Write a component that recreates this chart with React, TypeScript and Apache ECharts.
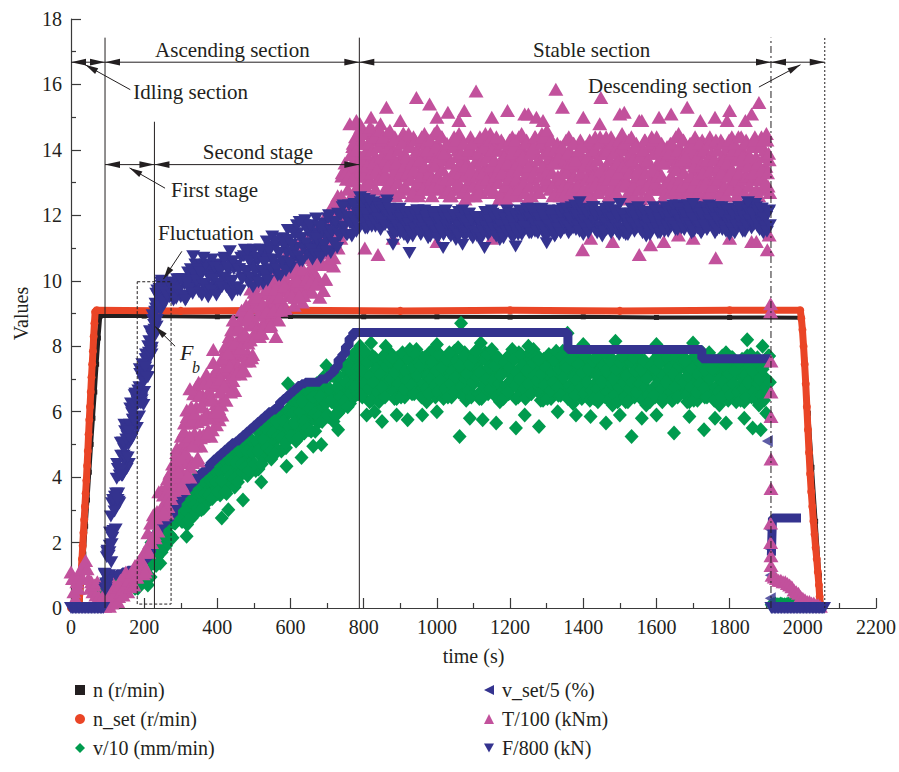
import React, { useEffect, useRef } from "react";
import * as echarts from "echarts";

const FONT = '"Liberation Serif", "Times New Roman", serif';
const INK = "#231f20";
const AXIS_COL = "#3a3a3a";
const COL_N = "#231f20";
const COL_NSET = "#ea4526";
const COL_V = "#009b4e";
const COL_VSET = "#34338f";
const COL_T = "#c2519c";
const COL_F = "#34338f";
const LEFT_TRI = "path://M0,5L10,0L10,10Z";
const DOWN_TRI = "path://M0,0L10,0L5,9Z";

const X_MIN = 0, X_MAX = 2200, X_STEP = 200;
const Y_MIN = 0, Y_MAX = 18, Y_STEP = 2;

const NAME_N = "n (r/min)";
const NAME_NSET = "n_set (r/min)";
const NAME_V = "v/10 (mm/min)";
const NAME_VSET = "v_set/5 (%)";
const NAME_T = "T/100 (kNm)";
const NAME_F = "F/800 (kN)";

// ---------- n (r/min) ----------
const N_DATA = [[0,0],[25,0],[30,0.8],[35,1.65],[40,2.5],[45,3.3],[50,4.15],[55,5.0],[60,5.8],[65,6.6],[70,7.45],[75,8.25],[80,8.92],[200,8.92],[400,8.9],[600,8.91],[800,8.9],[1000,8.9],[1200,8.89],[1400,8.9],[1600,8.88],[1800,8.88],[1997,8.87],[2005,7.6],[2015,5.95],[2025,4.3],[2035,2.65],[2045,1.0],[2052,0]];

// ---------- n_set (r/min) ----------
const NSET_DATA = [[0,0],[20,0],[22,0.15],[24,0.45],[26,0.8],[28,1.15],[30,1.5],[32,1.9],[34,2.3],[36,2.7],[38,3.1],[40,3.5],[42,3.9],[44,4.35],[46,4.8],[48,5.3],[50,5.75],[52,6.15],[54,6.6],[56,7.05],[58,7.45],[60,7.85],[62,8.3],[64,8.7],[66,9.05],[70,9.1],[300,9.08],[600,9.1],[900,9.08],[1200,9.1],[1500,9.08],[1800,9.1],[1993,9.1],[1996,8.85],[1999,8.5],[2002,8.0],[2005,7.45],[2008,6.85],[2011,6.15],[2014,5.45],[2017,4.75],[2020,4.1],[2023,3.55],[2026,3.1],[2029,2.65],[2032,2.25],[2035,1.85],[2038,1.5],[2041,1.1],[2044,0.7],[2046,0.35],[2048,0]];

// ---------- v/10 (mm/min) ----------
const V_ASC_T0 = 80, V_ASC_DT = 5;
const V_ASC = [0.3,0.5,0.4,0.6,
0.85,0.5,0.75,0.4,0.7,0.85,0.5,0.75,0.65,0.85,0.5,0.95,0.6,0.75,0.95,0.6,0.9,0.8,1.15,0.8,
0.85,1.4,0.7,1.5,2.0,1.4,1.85,1.55,2.35,2.25,2.1,2.8,1.9,2.7,2.25,2.7,3.15,2.6,2.85,3.45,
3.25,2.65,3.6,3.15,2.95,3.6,2.75,3.45,3.95,3.35,3.15,3.85,3.65,3.15,4.1,3.65,3.95,3.5,4.45,3.65,
3.5,4.1,4.45,3.85,4.45,3.5,4.4,4.85,3.95,4.35,4.8,3.95,4.75,4.4,5.1,4.15,4.7,5.05,4.5,4.9,
5.0,4.2,4.95,5.35,4.7,5.7,4.95,4.65,5.55,5.25,5.85,4.95,5.55,5.2,5.95,4.8,5.8,5.6,5.25,6.0,
6.35,5.45,6.05,5.1,5.95,6.45,5.45,6.1,5.9,6.4,5.45,6.7,5.8,6.15,6.65,5.65,6.5,6.1,7.05,5.9,
6.65,5.85,7.1,6.5,6.25,7.1,5.95,6.85,7.45,6.65,6.35,7.3,7.05,6.35,7.6,7.0,7.35,6.75,8.0];
const V_ASC2_T0 = 82.5, V_ASC2_DT = 5;
const V_ASC2 = [0.55,0.3,0.6,0.4,
0.55,0.8,0.45,0.7,0.4,0.55,0.8,0.45,0.95,0.55,0.8,0.65,0.9,1.05,0.65,0.9,0.6,1.1,0.85,1.1,
1.4,0.85,1.25,0.95,1.45,1.95,1.3,2.1,1.8,1.7,2.65,2.25,2.45,2.15,2.8,2.15,2.6,3.15,3.4,2.9,
2.65,3.25,3.0,2.55,3.55,3.0,3.35,2.85,3.35,3.95,3.75,3.25,3.05,3.75,3.5,4.25,3.35,4.1,3.85,4.25,
4.15,3.45,3.8,4.5,3.8,4.15,3.75,4.2,4.6,3.7,4.15,4.6,4.1,5.05,4.45,4.8,4.05,4.4,5.15,4.25,
4.3,4.9,4.25,4.65,5.4,5.0,5.65,5.35,4.85,4.55,5.15,5.65,4.85,5.9,5.25,5.5,5.1,4.9,5.95,5.3,
5.6,6.2,5.3,5.85,5.2,5.7,6.2,5.35,6.65,5.65,6.2,5.95,6.55,5.4,5.9,6.4,5.75,6.85,6.3,6.65,
5.85,6.65,6.3,5.7,7.05,6.3,6.75,6.05,6.65,7.45,7.15,6.5,6.25,7.15,6.8,7.8,6.55,7.55,7.2];
const V_ASC3_T0 = 301.25, V_ASC3_DT = 5;
const V_ASC3 = [2.7,3.25,3.0,3.6,2.7,3.35,3.65,3.15,4.0,3.05,3.55,3.0,3.9,3.5,4.2,3.45,3.9,3.35,4.25,3.85,
3.55,4.2,3.9,4.55,3.55,4.25,4.55,4.05,4.95,3.95,4.45,3.85,4.8,4.4,5.15,4.3,4.8,4.2,5.15,4.75,
4.4,5.1,4.8,5.5,4.4,5.15,5.5,4.9,5.9,4.8,5.35,4.7,5.7,5.25,6.05,5.2,5.7,5.05,6.05,5.55,
5.25,5.95,5.65,6.35,5.2,6.0,6.3,5.7,6.7,5.5,6.1,5.4,6.45,5.95,6.85,5.85,6.45,5.7,6.8,6.25,
5.9,6.7,6.35,7.1,5.9,6.75,7.1,6.45,7.5,6.3,6.9,6.15,7.3,6.8,7.75,6.75,7.3,6.55,7.7];
const V_STB_T0 = 792, V_STB_DT = 4;
const V_STB = [7.3,6.45,7.65,7.0,6.7,7.5,6.3,7.15,7.7,6.85,6.5,7.4,7.1,6.35,7.55,6.9,7.25,6.6,7.8,6.75,
7.8,6.85,7.4,6.4,7.2,7.65,6.6,7.25,7.0,7.5,6.45,7.75,6.8,7.1,7.6,6.55,7.35,6.95,7.9,6.7,
6.6,7.25,7.65,6.85,7.5,6.3,7.35,7.8,6.7,7.1,7.6,6.45,7.4,6.95,7.75,6.55,7.2,7.5,6.8,7.25,
7.0,7.65,6.45,7.4,7.85,6.75,7.15,6.6,7.55,7.3,6.9,7.8,6.35,7.45,6.65,7.25,7.7,6.85,7.05,7.85,
7.35,6.4,7.2,7.6,6.8,7.8,6.95,6.55,7.5,7.1,7.75,6.6,7.25,6.85,7.65,6.3,7.4,7.2,6.7,7.6,
7.4,6.55,7.75,7.1,6.8,7.6,6.4,7.25,7.8,6.95,6.6,7.5,7.2,6.45,7.65,7.0,7.35,6.7,7.9,6.85,
7.75,6.8,7.35,6.35,7.15,7.6,6.55,7.2,6.95,7.45,6.4,7.7,6.75,7.05,7.55,6.5,7.3,6.9,7.85,6.65,
6.55,7.2,7.6,6.8,7.45,6.25,7.3,7.75,6.65,7.05,7.55,6.4,7.35,6.9,7.7,6.5,7.15,7.45,6.75,7.2,
6.85,7.5,6.3,7.25,7.7,6.6,7.0,6.45,7.4,7.15,6.75,7.65,6.2,7.3,6.5,7.1,7.55,6.7,6.9,7.7,
7.25,6.3,7.1,7.5,6.7,7.7,6.85,6.45,7.4,7.0,7.65,6.5,7.15,6.75,7.55,6.2,7.3,7.1,6.6,7.5,
7.3,6.45,7.65,7.0,6.7,7.5,6.3,7.15,7.7,6.85,6.5,7.4,7.1,6.35,7.55,6.9,7.25,6.6,7.8,6.75,
7.7,6.75,7.3,6.3,7.1,7.55,6.5,7.15,6.9,7.4,6.35,7.65,6.7,7.0,7.5,6.45,7.25,6.85,7.8,6.6,
6.5,7.15,7.55,6.75,7.4,6.2,7.25,7.7,6.6,7.0,7.5,6.35,7.3,6.85,7.65,6.45,7.1,7.4,6.7,7.15,
6.85,7.5,6.3,7.25,7.7,6.6,7.0,6.45,7.4,7.15,6.75,7.65,6.2,7.3,6.5,7.1,7.55,6.7,6.9,7.7];
const V_STB2_T0 = 794, V_STB2_DT = 4;
const V_STB2 = [6.5,7.25,6.85,7.8,7.5,6.7,7.1,6.35,6.9,7.65,7.3,6.6,6.3,7.15,6.75,7.7,6.45,7.4,7.0,7.55,
7.0,7.65,6.6,7.2,6.4,6.85,7.4,6.45,7.8,6.7,7.25,6.95,7.6,7.9,6.8,7.35,6.55,7.75,7.1,7.5,
7.4,6.45,6.85,7.65,6.7,7.1,6.55,7.0,7.5,7.9,6.8,7.25,6.6,7.75,6.95,7.35,6.4,6.7,7.6,6.45,
7.8,6.85,7.25,6.6,7.05,7.55,7.95,7.4,6.75,6.5,7.7,7.0,7.15,6.65,7.45,6.45,6.9,7.65,7.85,7.05,
6.55,7.2,6.4,6.8,7.6,7.0,7.75,7.35,6.7,7.9,6.95,7.4,6.45,7.65,6.85,7.1,6.6,6.4,7.5,6.8,
6.6,7.35,6.95,7.9,7.6,6.8,7.2,6.45,7.0,7.75,7.4,6.7,6.4,7.25,6.85,7.8,6.55,7.5,7.1,7.65,
6.95,7.6,6.55,7.15,6.35,6.8,7.35,6.4,7.75,6.65,7.2,6.9,7.55,7.85,6.75,7.3,6.5,7.7,7.05,7.45,
7.35,6.4,6.8,7.6,6.65,7.05,6.5,6.95,7.45,7.85,6.75,7.2,6.55,7.7,6.9,7.3,6.35,6.65,7.55,6.4,
7.65,6.7,7.1,6.45,6.9,7.4,7.8,7.25,6.6,6.35,7.55,6.85,7.0,6.5,7.3,6.3,6.75,7.5,7.7,6.9,
6.45,7.1,6.3,6.7,7.5,6.9,7.65,7.25,6.6,7.8,6.85,7.3,6.35,7.55,6.75,7.0,6.5,6.3,7.4,6.7,
6.5,7.3,6.85,7.75,7.5,6.7,7.1,6.4,6.9,7.65,7.3,6.6,6.35,7.15,6.75,7.7,6.45,7.4,7.0,7.55,
6.9,7.55,6.5,7.1,6.3,6.75,7.3,6.35,7.7,6.6,7.15,6.85,7.5,7.8,6.7,7.25,6.45,7.65,7.0,7.4,
7.3,6.35,6.75,7.55,6.6,7.0,6.45,6.9,7.4,7.8,6.7,7.15,6.5,7.65,6.85,7.25,6.3,6.6,7.5,6.35,
7.6,6.7,7.1,6.45,6.9,7.4,7.75,7.25,6.6,6.4,7.55,6.85,7.0,6.5,7.3,6.35,6.75,7.5,7.7,6.9];
const V_OUT = [[244,1.37],[316,2.19],[412,2.75],[430,3.0],[470,3.3],[520,3.85],[589,4.33],[630,4.6],[662,4.94],[684,5.0],[730,5.45],[593,6.85],[698,7.4],
[808,5.9],[830,6.0],[850,5.7],[890,5.9],[920,5.75],[960,5.9],[1000,6.0],[1062,5.24],[1090,5.8],[1125,5.75],[1162,5.65],[1216,5.5],[1240,5.9],[1279,5.55],[1330,6.0],[1380,5.9],[1420,5.85],[1462,5.65],[1500,5.9],[1532,5.24],[1560,5.8],[1600,5.9],[1648,5.35],[1690,5.85],[1730,5.45],[1760,5.8],[1790,5.65],[1840,5.8],[1863,5.5],[1885,5.45],[1900,5.95],
[820,8.1],[860,8.0],[1000,8.05],[1066,8.7],[1120,8.1],[1250,8.0],[1357,8.4],[1400,8.05],[1488,8.15],[1600,8.05],[1700,8.1],[1848,8.2],[1890,8.0]];
const V_END = [[1915,0.1],[1920,0.1],[1925,0.12],[1930,0.1],[1935,0.1],[1940,0.12],[1945,0.1],[1950,0.1],[1955,0.1],[1960,0.12],[1965,0.1],[1970,0.1],[1975,0.1],[1980,0.12],[1985,0.1],[1990,0.1]];

// ---------- v_set/5 (%) ----------
const VSET_MAIN = [[0,0],[93,0],[96,0.95],[110,1.0],[125,1.05],[140,1.1],[155,1.15],[170,1.2],[180,1.3],[190,1.4],[200,1.5],[210,1.7],[220,2.0],[230,2.3],[240,2.5],[250,2.6],[260,2.7],[270,2.85],[280,3.1],[290,3.3],[300,3.45],[310,3.6],[320,3.75],[330,3.85],[340,4.0],[350,4.1],[360,4.2],[370,4.3],[380,4.45],[390,4.55],[400,4.65],[410,4.75],[420,4.85],[430,4.95],[440,5.05],[450,5.1],[460,5.2],[470,5.3],[480,5.4],[490,5.5],[500,5.6],[510,5.7],[520,5.8],[530,5.9],[540,6.0],[550,6.05],[560,6.15],[570,6.3],[580,6.4],[590,6.5],[600,6.6],[610,6.7],[620,6.8],[630,6.85],[640,6.9],[660,6.9],[680,7.0],[700,7.1],[710,7.2],[720,7.35],[730,7.6],[740,7.75],[750,8.0],[760,8.25],[770,8.42],[1352,8.42],[1358,7.9],[1718,7.9],[1724,7.62],[1913,7.62]];
const VSET_TAIL = [[1914,1.6],[1917,2.75],[1995,2.75]];
const VSET_PTS = [[1903,5.1],[1911,2.4],[1911,1.8],[1911,1.0],[1911,0.3]];

// ---------- T/100 (kNm) ----------
const T_EARLY = [[0,1.1],[4,0.9],[8,0.5],[12,0.3],[16,0.8],[20,0.6],[24,1.0],[28,1.2],[32,0.9],[36,1.3],[40,1.45],[44,1.2],[48,0.9],[52,0.6],[56,0.8],[60,0.5],[64,0.7],[68,0.4],[72,0.8],[76,0.35],[80,0.2],[84,0.3],[88,0.1],[92,0.05]];
const T_ASC_T0 = 95, T_ASC_DT = 5;
const T_ASC = [0.2,0.5,0.05,0.5,0.75,0.3,0.55,0.35,0.85,0.75,0.65,1.1,0.5,1.0,0.75,1.05,1.3,0.95,1.1,1.5,1.4,
1.7,1.2,2.3,2.0,2.0,2.85,2.15,2.95,3.55,3.0,2.85,3.6,3.5,3.1,4.1,3.8,4.2,3.85,4.9,4.25,
3.75,4.85,5.65,4.65,5.7,4.0,5.65,6.55,4.95,5.7,6.5,4.95,6.5,5.85,7.15,5.45,6.45,7.05,6.0,6.8,
7.0,5.75,7.0,7.55,6.8,8.0,7.2,6.75,8.05,7.75,8.5,7.4,8.25,7.8,8.8,7.25,8.9,8.65,8.2,9.4,
9.65,8.7,9.4,8.3,9.3,9.9,8.8,9.6,9.35,9.95,8.85,10.3,9.3,9.7,10.3,9.15,10.1,9.7,10.85,9.55,
9.85,10.7,9.25,10.5,11.15,9.8,10.35,9.7,10.95,10.7,10.25,11.4,9.65,11.1,10.15,10.9,11.55,10.5,10.85,11.9,
11.5,10.5,12.1,11.45,11.2,12.35,11.0,12.3,13.2,12.3,12.1,13.4,13.2,12.45,14.1,13.4,13.9,13.2,14.8];
const T_ASC2_T0 = 97.5, T_ASC2_DT = 5;
const T_ASC2 = [0.55,0.15,0.4,0.15,0.4,0.65,0.2,0.7,0.5,0.4,1.0,0.75,0.85,0.65,1.1,0.7,0.95,1.3,1.45,1.15,1.05,
1.1,1.8,1.7,2.6,2.6,2.25,2.75,2.35,2.95,3.6,3.45,3.0,2.9,3.7,3.5,4.4,3.6,4.45,4.3,4.85,
4.95,3.65,4.45,5.85,4.5,5.2,4.45,5.35,6.15,4.5,5.3,6.15,5.3,7.05,5.95,6.65,5.25,5.85,7.2,5.6,
5.9,6.85,5.9,6.45,7.9,6.9,8.3,7.85,6.95,6.65,7.4,8.5,7.15,8.9,7.7,8.35,7.8,7.55,9.3,8.3,
8.75,9.6,8.5,9.2,8.4,9.0,9.7,8.7,10.25,9.05,9.75,9.4,10.2,8.8,9.4,10.05,9.2,10.6,9.95,10.45,
10.85,9.7,10.25,9.5,10.15,10.8,9.35,10.7,9.95,9.7,11.25,10.4,10.65,10.1,11.15,9.9,10.55,11.5,11.85,10.9,
10.5,11.5,11.1,10.45,12.2,11.35,12.0,11.3,12.2,13.3,13.1,12.4,12.2,13.45,13.1,14.4,12.9,14.2,13.8];
const T_ASC3_T0 = 251.25, T_ASC3_DT = 5;
const T_ASC3 = [3.55,3.25,3.1,3.75,4.15,3.6,4.05,3.65,4.6,4.3,
5.25,4.0,5.05,6.05,5.05,4.3,5.75,5.05,6.75,4.6,6.5,5.75,5.25,6.4,7.1,5.8,6.45,5.45,7.05,6.25,
7.25,6.6,6.2,7.3,8.0,6.8,7.5,6.6,8.15,7.5,8.6,7.4,8.25,9.1,8.2,7.55,8.85,8.2,9.75,7.75,
9.45,8.5,9.2,9.9,9.15,8.6,9.7,9.1,10.35,8.65,10.05,9.5,9.1,9.95,10.45,9.4,9.9,9.15,10.4,9.8,
10.6,9.95,9.5,10.45,11.0,9.85,10.4,9.55,10.9,10.25,11.2,10.05,10.8,11.55,10.7,10.05,11.2,10.55,11.9,10.05,
11.75,10.65,11.5,12.35,11.6,11.05,12.3,11.8,13.3,11.6,13.3,12.8,12.5,13.55,14.2,13.05,13.65,12.85,14.25];
const T_ASC4_T0 = 253.75, T_ASC4_DT = 5;
const T_ASC4 = [2.95,3.5,3.95,3.5,3.35,4.2,4.05,4.75,4.15,4.6,
3.75,5.4,4.75,4.05,5.25,6.15,5.0,5.95,4.5,6.9,5.2,6.15,6.85,5.85,5.35,6.85,6.35,7.5,6.0,6.9,
6.1,7.0,7.65,6.8,6.35,7.8,7.4,8.5,7.15,8.1,7.2,8.6,7.95,7.25,8.35,9.25,8.1,9.0,7.65,9.85,
8.3,9.5,8.95,8.4,9.3,10.0,9.05,9.75,8.6,10.4,9.1,9.75,10.25,9.5,9.1,10.25,9.85,10.7,9.55,10.25,
9.55,10.3,10.85,10.0,9.55,10.8,10.35,11.3,10.05,10.8,9.95,11.2,10.55,9.9,10.85,11.6,10.55,11.3,10.05,12.0,
10.5,11.8,11.25,10.7,11.75,12.6,11.7,12.6,11.5,13.6,12.3,13.2,13.85,13.1,12.7,14.0,13.6,14.6,13.4];
const T_STB_T0 = 792, T_STB_DT = 3;
const T_STB = [14.7,13.5,14.2,12.9,13.9,14.5,13.2,14.0,13.7,14.3,13.0,14.6,13.4,13.8,14.4,13.1,14.1,13.6,14.8,13.3,
13.4,14.2,12.7,13.9,14.5,13.1,13.6,12.9,14.1,13.8,13.3,14.4,12.6,14.0,13.0,13.7,14.3,13.2,13.5,14.5,
13.9,12.8,14.3,13.5,13.1,14.1,12.6,13.7,14.4,13.3,12.9,14.0,13.6,12.7,14.2,13.4,13.8,13.0,14.5,13.2,
13.0,13.8,14.3,13.3,14.1,12.6,13.9,14.5,13.1,13.6,14.2,12.8,14.0,13.4,14.4,12.9,13.7,14.1,13.2,13.8,
13.8,12.6,13.6,14.1,13.1,14.4,13.3,12.8,14.0,13.5,14.3,12.9,13.7,13.2,14.2,12.5,13.9,13.6,13.0,14.1,
14.4,13.2,13.9,12.6,13.6,14.2,12.9,13.7,13.4,14.0,12.7,14.3,13.1,13.5,14.1,12.8,13.8,13.3,14.5,13.0,
13.8,12.7,14.2,13.4,13.0,14.0,12.5,13.6,14.3,13.2,12.8,13.9,13.5,12.6,14.1,13.3,13.7,12.9,14.4,13.1,
13.3,14.1,12.6,13.8,14.4,13.0,13.5,12.8,14.0,13.7,13.2,14.3,12.5,13.9,12.9,13.6,14.2,13.1,13.4,14.4,
13.9,12.7,13.7,14.2,13.2,14.5,13.4,12.9,14.1,13.6,14.4,13.0,13.8,13.3,14.3,12.6,14.0,13.7,13.1,14.2,
12.8,13.6,14.1,13.1,13.9,12.4,13.7,14.3,12.9,13.4,14.0,12.6,13.8,13.2,14.2,12.7,13.5,13.9,13.0,13.6,
14.3,13.1,13.8,12.5,13.5,14.1,12.8,13.6,13.3,13.9,12.6,14.2,13.0,13.4,14.0,12.7,13.7,13.2,14.4,12.9,
13.9,12.8,14.3,13.5,13.1,14.1,12.6,13.7,14.4,13.3,12.9,14.0,13.6,12.7,14.2,13.4,13.8,13.0,14.5,13.2,
13.2,14.0,12.5,13.7,14.3,12.9,13.4,12.7,13.9,13.6,13.1,14.2,12.4,13.8,12.8,13.5,14.1,13.0,13.3,14.3,
13.8,12.6,13.6,14.1,13.1,14.4,13.3,12.8,14.0,13.5,14.3,12.9,13.7,13.2,14.2,12.5,13.9,13.6,13.0,14.1,
12.9,13.7,14.2,13.2,14.0,12.5,13.8,14.4,13.0,13.5,14.1,12.7,13.9,13.3,14.3,12.8,13.6,14.0,13.1,13.7,
14.2,13.1,13.9,12.5,13.4,14.1,12.8,13.7,13.2,13.9,12.6,14.3,13.0,13.5,14.0,12.7,13.6,13.2,14.4,12.9,
13.8,12.7,14.2,13.4,13.0,14.0,12.5,13.6,14.3,13.2,12.8,13.9,13.5,12.6,14.1,13.3,13.7,12.9,14.4,13.1,
13.3,14.1,12.6,13.8,14.4,13.0,13.5,12.8,14.0,13.7,13.2,14.3,12.5,13.9,12.9,13.6,14.2,13.1,13.4,14.4,
13.8,12.6,13.6,14.1,13.1,14.4,13.3,12.8,14.0,13.5,14.3,12.9,13.7];
const T_STB2_T0 = 793.5, T_STB2_DT = 3;
const T_STB2 = [13.7,14.5,13.2,13.9,12.9,13.5,14.2,13.0,14.7,13.3,14.0,13.6,14.4,12.8,13.4,14.1,13.1,14.6,13.8,14.3,
14.4,13.2,13.7,12.9,13.5,14.1,14.6,13.9,13.1,12.8,14.3,13.4,13.6,13.0,14.0,12.7,13.3,14.2,14.5,13.5,
12.9,13.8,13.3,14.5,14.1,13.1,13.6,12.7,13.4,14.3,13.9,13.0,12.6,13.7,13.2,14.4,12.8,14.0,13.5,14.2,
14.0,12.8,13.3,14.3,13.1,13.6,12.9,13.5,14.1,14.6,13.2,13.8,13.0,14.4,13.4,13.9,12.7,13.1,14.2,12.8,
12.8,13.6,12.6,13.1,14.1,13.4,14.3,13.8,13.0,14.5,13.3,13.9,12.7,14.2,13.2,13.5,12.9,12.6,14.0,13.1,
13.4,14.2,12.9,13.6,12.6,13.2,13.9,12.7,14.4,13.0,13.7,13.3,14.1,14.5,13.1,13.8,12.8,14.3,13.5,14.0,
12.8,13.7,13.2,14.4,14.0,13.0,13.5,12.6,13.3,14.2,13.8,12.9,12.5,13.6,13.1,14.3,12.7,13.9,13.4,14.1,
14.3,13.1,13.6,12.8,13.4,14.0,14.5,13.8,13.0,12.7,14.2,13.3,13.5,12.9,13.9,12.6,13.2,14.1,14.4,13.4,
12.9,13.7,12.7,13.2,14.2,13.5,14.4,13.9,13.1,14.6,13.4,14.0,12.8,14.3,13.3,13.6,13.0,12.7,14.1,13.2,
13.8,12.6,13.1,14.1,12.9,13.4,12.7,13.3,13.9,14.4,13.0,13.6,12.8,14.2,13.2,13.7,12.5,12.9,14.0,12.6,
13.3,14.1,12.8,13.5,12.5,13.1,13.8,12.6,14.3,12.9,13.6,13.2,14.0,14.4,13.0,13.7,12.7,14.2,13.4,13.9,
13.0,13.9,13.2,14.4,14.0,13.1,13.7,12.8,13.4,14.2,13.9,13.1,12.7,13.6,13.3,14.3,12.9,14.1,13.5,14.2,
14.2,13.0,13.5,12.7,13.3,13.9,14.4,13.7,12.9,12.6,14.1,13.2,13.4,12.8,13.8,12.5,13.1,14.0,14.3,13.3,
12.9,13.7,12.6,13.0,14.2,13.4,14.3,13.9,13.0,14.4,13.2,13.9,12.8,14.1,13.2,13.6,12.9,12.7,14.0,13.0,
13.9,12.7,13.2,14.2,13.0,13.5,12.8,13.4,14.0,14.5,13.1,13.7,12.9,14.3,13.3,13.8,12.6,13.0,14.1,12.7,
13.2,14.1,12.9,13.5,14.4,13.1,13.8,12.7,14.2,12.9,13.6,13.3,14.0,12.5,13.0,13.7,12.6,14.2,13.4,13.9,
12.9,13.7,13.1,14.3,14.0,13.1,13.5,12.7,13.3,14.2,13.7,12.9,12.6,13.6,13.2,14.3,12.8,13.9,13.4,14.0,
14.2,13.1,13.7,12.8,13.3,14.0,14.4,13.8,13.1,12.7,14.2,13.2,13.5,12.9,13.8,12.6,13.3,14.1,14.3,13.4,
12.8,13.6,12.6,13.1,14.1,13.4,14.3,13.8,13.0,14.5,13.3,13.9,12.7];
const T_OUT = [[325,6.7],[389,7.9],[443,8.8],[560,8.3],[680,9.5],[690,9.7],[716,12.3],[762,14.8],[780,14.9],
[820,15.0],[862,15.3],[900,14.9],[944,15.6],[980,15.4],[1000,15.0],[1030,15.15],[1060,14.9],[1075,15.2],[1107,15.8],[1150,15.0],[1193,15.2],[1240,15.1],[1250,15.1],[1272,15.0],[1290,14.9],[1325,15.85],[1343,15.3],[1400,15.0],[1445,14.8],[1448,15.6],[1500,15.1],[1512,15.15],[1553,14.9],[1560,14.9],[1607,15.0],[1640,15.1],[1684,15.3],[1720,14.9],[1760,15.0],[1793,14.9],[1800,15.2],[1843,14.9],[1860,15.1],[1880,15.45],
[803,11.0],[839,10.8],[880,11.3],[1000,11.2],[1150,11.3],[1398,10.95],[1420,11.3],[1480,11.2],[1553,10.8],[1584,11.1],[1620,11.2],[1660,11.4],[1700,11.3],[1762,10.7],[1800,11.3],[1860,11.2],[1873,11.2],[1903,10.95],[1908,11.4]];
const T_DESC = [[1912,9.3],[1912,9.05],[1913,7.55],[1913,6.6],[1913,5.85],[1913,4.55],[1913,3.65],[1912,2.6],[1912,2.0],[1913,1.6],[1913,1.3],[1916,1.0],[1922,0.95],[1928,0.9],[1934,0.85],[1940,0.85],[1946,0.8],[1952,0.8],[1958,0.75],[1964,0.7],[1970,0.65],[1976,0.55],[1982,0.5],[1988,0.45],[1994,0.35],[2000,0.3],[2006,0.25],[2012,0.2],[2018,0.2],[2024,0.15],[2030,0.15],[2036,0.1],[2042,0.1],[2048,0.05]];

// ---------- F/800 (kN) ----------
const F_IDLE_T0 = 0, F_IDLE_DT = 4;
const F_IDLE = [0,0,0,0,0,0,0,0,0,0,0,0,0,0,0,0,0,0,0,0,0,0,0];
const F_ASC1_T0 = 92, F_ASC1_DT = 4;
const F_ASC1 = [1.05,0.75,1.75,1.0,2.3,3.2,2.35,3.4,3.4,4.25,3.2,5.05,4.05,4.65,5.4,4.25,5.4,5.1,6.25,5.25,
5.7,6.55,5.5,6.65,7.3,6.4,7.0,6.6,7.6,7.6,7.6,8.45,7.75,8.8,8.5,9.15,9.7,9.2,9.4,10.0];
const F_ASC1B_T0 = 94, F_ASC1B_DT = 4;
const F_ASC1B = [0.55,1.55,0.85,1.9,1.4,2.3,3.25,2.4,4.4,3.25,4.2,4.05,5.05,5.6,4.4,5.25,4.4,6.1,5.45,6.05,
6.5,5.75,6.3,5.85,6.5,7.2,6.2,7.4,7.05,7.05,8.15,7.9,8.3,8.25,9.05,8.6,9.15,9.75,9.95,9.45];
const F_ASC1C_T0 = 93, F_ASC1C_DT = 4;
const F_ASC1C = [1.0,0.7,1.6,1.7,2.8,2.15,3.15,3.2,3.95,3.5,4.05,4.65,4.05,4.85,4.6,5.45,5.0,5.6,5.15,5.75,
6.2,5.7,6.35,6.25,7.15,6.35,7.25,7.1,7.75,7.25,7.8,8.45,7.95,8.8,8.65,9.6,9.15,9.65,9.1,9.55];
const F_ASC1D_T0 = 95, F_ASC1D_DT = 4;
const F_ASC1D = [0.6,1.7,1.6,2.3,1.95,3.3,2.95,3.5,3.3,4.25,4.2,4.05,5.05,4.6,5.15,4.6,5.4,5.15,5.95,5.75,
5.7,6.55,6.25,6.75,6.25,7.45,6.9,7.35,7.05,8.0,7.95,7.85,8.95,8.65,9.3,8.8,9.5,9.2,9.85];
const F_ASC2_T0 = 250, F_ASC2_DT = 5;
const F_ASC2 = [9.7,9.3,9.9,9.6,9.5,9.9,9.4,9.8,10.05,9.7,9.5,10.05,9.9,9.45,10.25,9.85,10.1,9.7,10.5,9.85,
9.65,10.15,10.45,9.9,10.35,9.5,10.3,10.65,9.8,10.15,10.5,9.7,10.4,10.05,10.7,9.8,10.3,10.55,10.0,10.35,
10.45,9.7,10.35,10.7,10.1,10.95,10.25,9.95,10.75,10.45,10.95,10.05,10.6,10.3,10.95,9.9,10.8,10.65,10.25,11.0,
11.35,10.5,11.05,10.15,10.85,11.3,10.45,11.0,10.85,11.25,10.4,11.55,10.7,11.0,11.45,10.6,11.3,11.0,11.85,10.8,
11.05,11.6,10.65,11.45,11.9,11.0,11.35,10.9,11.75,11.55,11.25,12.0,10.85,11.8,11.15,11.65,12.05,11.35,11.6,12.3,
11.95,11.4,12.3,11.9,11.75,12.35,11.5,12.15,12.55];
const F_ASC2B_T0 = 252.5, F_ASC2B_DT = 5;
const F_ASC2B = [9.35,9.65,9.55,9.95,9.85,9.55,9.75,9.45,9.7,10.05,10.0,9.55,9.4,9.95,9.75,10.35,9.6,10.2,10.0,10.35,
10.25,9.55,9.85,10.5,9.75,10.1,9.7,10.05,10.4,9.55,9.9,10.3,9.8,10.65,10.1,10.4,9.7,9.95,10.6,9.75,
9.8,10.35,9.7,10.05,10.75,10.3,10.9,10.6,10.1,9.8,10.3,10.7,9.95,10.95,10.3,10.55,10.15,10.0,10.9,10.35,
10.65,11.2,10.35,10.85,10.15,10.6,11.15,10.3,11.55,10.55,11.1,10.85,11.4,11.7,10.75,11.3,10.6,11.7,11.15,11.5,
11.7,10.95,11.3,10.8,11.25,11.65,10.7,11.55,11.1,10.9,11.9,11.35,11.5,11.15,11.8,11.0,11.4,12.0,12.25,11.65,
11.4,11.95,11.75,11.35,12.3,11.8,12.05,11.6,12.0];
const F_STB_T0 = 792, F_STB_DT = 4;
const F_STB = [12.4,11.85,12.2,11.6,12.05,12.3,11.75,12.1,11.95,12.25,11.65,12.35,11.8,12.0,12.25,11.7,12.15,11.9,12.45,11.75,
11.65,12.0,11.35,11.9,12.15,11.5,11.75,11.45,12.0,11.85,11.6,12.1,11.3,11.95,11.5,11.8,12.05,11.55,11.7,12.15,
11.9,11.4,12.05,11.7,11.5,11.95,11.3,11.8,12.1,11.6,11.45,11.95,11.75,11.35,12.0,11.65,11.85,11.45,12.15,11.55,
11.45,11.8,12.0,11.55,11.95,11.25,11.85,12.1,11.45,11.7,11.95,11.35,11.9,11.6,12.05,11.4,11.75,11.95,11.5,11.8,
11.85,11.3,11.75,11.95,11.5,12.1,11.6,11.4,11.95,11.7,12.05,11.45,11.8,11.55,12.0,11.25,11.9,11.75,11.45,11.95,
12.15,11.6,11.95,11.35,11.8,12.05,11.5,11.85,11.7,12.0,11.4,12.1,11.55,11.75,12.0,11.45,11.9,11.65,12.2,11.5,
11.95,11.45,12.1,11.75,11.55,12.0,11.35,11.85,12.15,11.65,11.5,12.0,11.8,11.4,12.05,11.7,11.9,11.5,12.2,11.6,
11.75,12.1,11.45,12.0,12.25,11.6,11.85,11.55,12.1,11.95,11.7,12.2,11.4,12.05,11.6,11.9,12.15,11.65,11.8,12.25,
11.55,11.9,12.1,11.65,12.05,11.35,11.95,12.2,11.55,11.8,12.05,11.45,12.0,11.7,12.15,11.5,11.85,12.05,11.6,11.9,
11.95,11.4,11.85,12.05,11.6,12.2,11.7,11.5,12.05,11.8,12.15,11.55,11.9,11.65,12.1,11.35,12.0,11.85,11.55,12.05,
12.25,11.7,12.05,11.45,11.9,12.15,11.6,11.95,11.8,12.1,11.5,12.2,11.65,11.85,12.1,11.55,12.0,11.75,12.3,11.6,
12.05,11.55,12.2,11.85,11.65,12.1,11.45,11.95,12.25,11.75,11.6,12.1,11.9,11.5,12.15,11.8,12.0,11.6,12.3,11.7,
11.75,12.1,11.45,12.0,12.25,11.6,11.85,11.55,12.1,11.95,11.7,12.2,11.4,12.05,11.6,11.9,12.15,11.65,11.8,12.25,
12.05,11.5,11.95,12.15,11.7,12.3,11.8,11.6,12.15,11.9,12.25,11.65,12.0,11.75,12.2,11.45,12.1,11.95,11.65,12.15];
const F_STB2_T0 = 794, F_STB2_DT = 4;
const F_STB2 = [11.95,12.3,11.75,12.05,11.6,11.85,12.2,11.65,12.4,11.8,12.1,11.9,12.25,11.55,11.8,12.15,11.7,12.35,12.0,12.2,
12.1,11.55,11.8,11.45,11.7,11.95,12.2,11.9,11.55,11.4,12.05,11.65,11.75,11.5,11.95,11.35,11.6,12.0,12.15,11.7,
11.45,11.85,11.6,12.15,11.95,11.5,11.75,11.35,11.65,12.05,11.9,11.5,11.3,11.8,11.55,12.1,11.4,11.9,11.7,12.0,
11.9,11.35,11.55,12.0,11.5,11.7,11.4,11.65,11.9,12.15,11.5,11.8,11.45,12.05,11.6,11.85,11.3,11.5,11.95,11.35,
11.4,11.75,11.3,11.5,11.95,11.65,12.05,11.85,11.5,12.15,11.6,11.9,11.35,12.0,11.55,11.7,11.45,11.3,11.9,11.5,
11.7,12.05,11.5,11.8,11.35,11.6,11.95,11.4,12.15,11.55,11.85,11.65,12.0,12.2,11.55,11.9,11.45,12.1,11.75,11.95,
11.5,11.9,11.65,12.2,12.0,11.55,11.8,11.4,11.7,12.1,11.95,11.55,11.35,11.85,11.6,12.15,11.45,11.95,11.75,12.05,
12.2,11.65,11.9,11.55,11.8,12.05,12.3,12.0,11.65,11.5,12.15,11.75,11.85,11.6,12.05,11.45,11.7,12.1,12.25,11.8,
12.0,11.45,11.65,12.1,11.6,11.8,11.5,11.75,12.0,12.25,11.6,11.9,11.55,12.15,11.7,11.95,11.4,11.6,12.05,11.45,
11.5,11.85,11.4,11.6,12.05,11.75,12.15,11.95,11.6,12.25,11.7,12.0,11.45,12.1,11.65,11.8,11.55,11.4,12.0,11.6,
11.8,12.15,11.6,11.9,11.45,11.7,12.05,11.5,12.25,11.65,11.95,11.75,12.1,12.3,11.65,12.0,11.55,12.2,11.85,12.05,
11.6,12.0,11.75,12.3,12.1,11.65,11.9,11.5,11.8,12.2,12.05,11.65,11.45,11.95,11.7,12.25,11.55,12.05,11.85,12.15,
12.2,11.7,11.9,11.55,11.8,12.05,12.25,12.0,11.65,11.5,12.15,11.75,11.85,11.6,12.0,11.45,11.7,12.1,12.25,11.8,
11.6,11.95,11.5,11.7,12.15,11.85,12.25,12.05,11.7,12.35,11.8,12.1,11.55,12.2,11.75,11.9,11.65,11.5,12.1,11.7];
const F_OUT = [[334,10.75],[362,10.7],[434,10.9],[440,9.55],[535,11.2],[625,11.8],[800,12.5],[815,12.45],[880,11.1],[925,10.85],[1017,11.0],[1070,11.1],[1130,11.0],[1215,11.05],[1300,11.15],[1390,12.4],[1500,12.35],[1700,12.35],[1850,12.4]];
const F_END_T0 = 1914, F_END_DT = 4;
const F_END = [0,0,0,0,0,0,0,0,0,0,0,0,0,0,0,0,0,0,0,0,0,0,0,0,0,0,0,0,0,0,0,0,0,0,0,0,0];

// ---------- annotation anchors (data coordinates) ----------
const SECTION_BOUNDS = [0, 93, 788, 1913, 2060];
const STAGE_BOUNDS = [93, 228, 788];
const ROW1_V = 16.68, ROW2_V = 13.55, LINE_TOP_V = 17.43, STAGE_TOP_V = 14.86;
const FLUCT_BOX = [181, 9.97, 273.5, 0.12];
const LABELS = [
  { t: 441, v: 17.06, text: "Ascending section", align: "center" },
  { t: 1423, v: 17.04, text: "Stable section", align: "center" },
  { t: 170, v: 15.76, text: "Idling section", align: "left" },
  { t: 1413, v: 15.94, text: "Descending section", align: "left" },
  { t: 511, v: 13.95, text: "Second stage", align: "center" },
  { t: 273.5, v: 12.78, text: "First stage", align: "left" },
  { t: 238, v: 11.46, text: "Fluctuation", align: "left" },
];
const LEADERS = [
  { from: [162, 15.84], tip: [39, 16.6] },
  { from: [257, 12.83], tip: [160, 13.45] },
  { from: [303, 10.9], tip: [252.5, 10.05] },
  { from: [284.5, 8.0], tip: [230, 8.6] },
  { from: [1880, 15.92], tip: [1993.5, 16.6] },
];

const seq = (t0: number, dt: number, vals: number[]) => vals.map((v, i) => [t0 + i * dt, v]);

export default function App() {
  const ref = useRef<HTMLDivElement>(null);
  useEffect(() => {
    if (!ref.current) return;
    const chart = echarts.init(ref.current, null, { renderer: "svg" });
    const axisText = { fontFamily: FONT, fontSize: 20, color: INK };
    const axisCommon = {
      axisLine: { show: true, lineStyle: { color: AXIS_COL, width: 1.2 } },
      axisTick: { show: true, inside: true, length: 10, lineStyle: { color: AXIS_COL, width: 1.2 } },
      minorTick: { show: true, splitNumber: 2, length: 5, lineStyle: { color: AXIS_COL, width: 1.2 } },
      splitLine: { show: false },
      nameTextStyle: axisText,
    };
    const V_DATA = [...seq(V_ASC_T0, V_ASC_DT, V_ASC), ...seq(V_ASC2_T0, V_ASC2_DT, V_ASC2), ...seq(V_ASC3_T0, V_ASC3_DT, V_ASC3), ...seq(V_STB_T0, V_STB_DT, V_STB), ...seq(V_STB2_T0, V_STB2_DT, V_STB2), ...V_OUT, ...V_END];
    const T_DATA = [...T_EARLY, ...seq(T_ASC_T0, T_ASC_DT, T_ASC), ...seq(T_ASC2_T0, T_ASC2_DT, T_ASC2), ...seq(T_ASC3_T0, T_ASC3_DT, T_ASC3), ...seq(T_ASC4_T0, T_ASC4_DT, T_ASC4), ...seq(T_STB_T0, T_STB_DT, T_STB), ...seq(T_STB2_T0, T_STB2_DT, T_STB2), ...T_OUT, ...T_DESC];
    const F_DATA = [...seq(F_IDLE_T0, F_IDLE_DT, F_IDLE), ...seq(F_ASC1_T0, F_ASC1_DT, F_ASC1), ...seq(F_ASC1B_T0, F_ASC1B_DT, F_ASC1B), ...seq(F_ASC1C_T0, F_ASC1C_DT, F_ASC1C), ...seq(F_ASC1D_T0, F_ASC1D_DT, F_ASC1D), ...seq(F_ASC2_T0, F_ASC2_DT, F_ASC2), ...seq(F_ASC2B_T0, F_ASC2B_DT, F_ASC2B), ...seq(F_STB_T0, F_STB_DT, F_STB), ...seq(F_STB2_T0, F_STB2_DT, F_STB2), ...F_OUT, ...seq(F_END_T0, F_END_DT, F_END)];
    const legendText = { fontFamily: FONT, fontSize: 20, color: INK, padding: [0, 0, 0, 3] };
    const fmt = (v: number) => String(v);
    chart.setOption({
      animation: false,
      backgroundColor: "#ffffff",
      grid: { left: 71, right: 22, top: 19, bottom: 164, containLabel: false },
      xAxis: {
        type: "value", min: X_MIN, max: X_MAX, interval: X_STEP,
        name: "time (s)", nameLocation: "middle", nameGap: 38,
        axisLabel: { ...axisText, margin: 9, formatter: fmt },
        ...axisCommon,
      },
      yAxis: {
        type: "value", min: Y_MIN, max: Y_MAX, interval: Y_STEP,
        name: "Values", nameLocation: "middle", nameGap: 40, nameRotate: 90,
        axisLabel: { ...axisText, margin: 9, formatter: fmt },
        ...axisCommon,
      },
      legend: [
        {
          orient: "vertical", left: 70, top: 675, itemGap: 9, itemWidth: 10, itemHeight: 10,
          selectedMode: false, textStyle: legendText,
          data: [{ name: NAME_N, icon: "rect" }, { name: NAME_NSET, icon: "circle" }, { name: NAME_V, icon: "diamond" }],
        },
        {
          orient: "vertical", left: 479, top: 675, itemGap: 9, itemWidth: 10, itemHeight: 10,
          selectedMode: false, textStyle: legendText,
          data: [{ name: NAME_VSET, icon: LEFT_TRI }, { name: NAME_T, icon: "triangle" }, { name: NAME_F, icon: DOWN_TRI }],
        },
      ],
      series: [
        { name: NAME_N, type: "line", data: N_DATA, color: COL_N, symbol: "rect", symbolSize: 5, showSymbol: true, lineStyle: { width: 4, color: COL_N }, itemStyle: { color: COL_N }, silent: true, z: 2 },
        { name: NAME_NSET, type: "line", data: NSET_DATA, color: COL_NSET, symbol: "circle", symbolSize: 8, showSymbol: true, lineStyle: { width: 7, color: COL_NSET }, itemStyle: { color: COL_NSET }, silent: true, z: 3 },
        { name: NAME_V, type: "scatter", data: V_DATA, color: COL_V, symbol: "diamond", symbolSize: [14, 15], itemStyle: { color: COL_V, opacity: 1 }, silent: true, z: 4 },
        { name: NAME_VSET, type: "line", step: "end", data: VSET_MAIN, color: COL_VSET, showSymbol: false, lineStyle: { width: 9, color: COL_VSET }, itemStyle: { color: COL_VSET }, silent: true, z: 5 },
        { name: NAME_VSET, type: "line", data: VSET_TAIL, color: COL_VSET, showSymbol: false, lineStyle: { width: 9, color: COL_VSET }, itemStyle: { color: COL_VSET }, silent: true, z: 5 },
        { name: NAME_VSET, type: "scatter", data: VSET_PTS, color: COL_VSET, symbol: LEFT_TRI, symbolSize: [11, 12], itemStyle: { color: COL_VSET }, silent: true, z: 5 },
        { name: NAME_T, type: "scatter", data: T_DATA, color: COL_T, symbol: "triangle", symbolSize: [15, 13], itemStyle: { color: COL_T, opacity: 1 }, silent: true, z: 6 },
        { name: NAME_F, type: "scatter", data: F_DATA, color: COL_F, symbol: DOWN_TRI, symbolSize: [14, 12], itemStyle: { color: COL_F, opacity: 1 }, silent: true, z: 7 },
      ],
    });

    const P = (t: number, v: number) => chart.convertToPixel({ gridIndex: 0 }, [t, v]) as number[];
    const els: any[] = [];
    const seg = (a: number[], b: number[], dash?: number[]) =>
      els.push({ type: "line", silent: true, z: 50, shape: { x1: a[0], y1: a[1], x2: b[0], y2: b[1] }, style: { stroke: INK, lineWidth: 1, lineDash: dash || null } });
    const head = (tip: number[], from: number[], L = 15, W = 3.4) => {
      const dx = tip[0] - from[0], dy = tip[1] - from[1];
      const len = Math.hypot(dx, dy) || 1;
      const ux = dx / len, uy = dy / len;
      const bx = tip[0] - ux * L, by = tip[1] - uy * L;
      els.push({ type: "polygon", silent: true, z: 51, shape: { points: [[tip[0], tip[1]], [bx - uy * W, by + ux * W], [bx + uy * W, by - ux * W]] }, style: { fill: INK } });
    };
    seg(P(93, 0), P(93, LINE_TOP_V));
    seg(P(228, 0), P(228, STAGE_TOP_V));
    seg(P(788, 0), P(788, LINE_TOP_V));
    seg(P(1913, 0), P(1913, LINE_TOP_V), [7, 3, 2, 3]);
    seg(P(2060, 0), P(2060, LINE_TOP_V), [2, 2]);
    seg(P(SECTION_BOUNDS[0], ROW1_V), P(SECTION_BOUNDS[SECTION_BOUNDS.length - 1], ROW1_V));
    for (let i = 0; i < SECTION_BOUNDS.length - 1; i++) {
      const a = P(SECTION_BOUNDS[i], ROW1_V), b = P(SECTION_BOUNDS[i + 1], ROW1_V);
      head(a, b); head(b, a);
    }
    seg(P(STAGE_BOUNDS[0], ROW2_V), P(STAGE_BOUNDS[STAGE_BOUNDS.length - 1], ROW2_V));
    for (let i = 0; i < STAGE_BOUNDS.length - 1; i++) {
      const a = P(STAGE_BOUNDS[i], ROW2_V), b = P(STAGE_BOUNDS[i + 1], ROW2_V);
      head(a, b); head(b, a);
    }
    LEADERS.forEach((l) => {
      const a = P(l.from[0], l.from[1]), b = P(l.tip[0], l.tip[1]);
      seg(a, b);
      head(b, a, 13, 3.2);
    });
    const r1 = P(FLUCT_BOX[0], FLUCT_BOX[1]), r2 = P(FLUCT_BOX[2], FLUCT_BOX[3]);
    els.push({ type: "rect", silent: true, z: 50, shape: { x: r1[0], y: r1[1], width: r2[0] - r1[0], height: r2[1] - r1[1] }, style: { fill: "none", stroke: INK, lineWidth: 1, lineDash: [3, 2] } });
    LABELS.forEach((l) => {
      const p = P(l.t, l.v);
      els.push({ type: "text", silent: true, z: 52, x: p[0], y: p[1], style: { text: l.text, fill: INK, font: `21px ${FONT}`, textAlign: l.align, align: l.align, textVerticalAlign: "middle", verticalAlign: "middle" } });
    });
    const fp = P(298, 7.8), bp = P(331, 7.6);
    els.push({ type: "text", silent: true, z: 52, x: fp[0], y: fp[1], style: { text: "F", fill: INK, font: `italic 22px ${FONT}`, textAlign: "left", align: "left", textVerticalAlign: "middle", verticalAlign: "middle" } });
    els.push({ type: "text", silent: true, z: 52, x: bp[0], y: bp[1], style: { text: "b", fill: INK, font: `italic 16px ${FONT}`, textAlign: "left", align: "left", textVerticalAlign: "top", verticalAlign: "top" } });
    chart.setOption({ graphic: { elements: els } });
    return () => chart.dispose();
  }, []);
  return <div ref={ref} style={{ position: "fixed", left: 0, top: 0, width: 899, height: 772, background: "#fff" }} />;
}
